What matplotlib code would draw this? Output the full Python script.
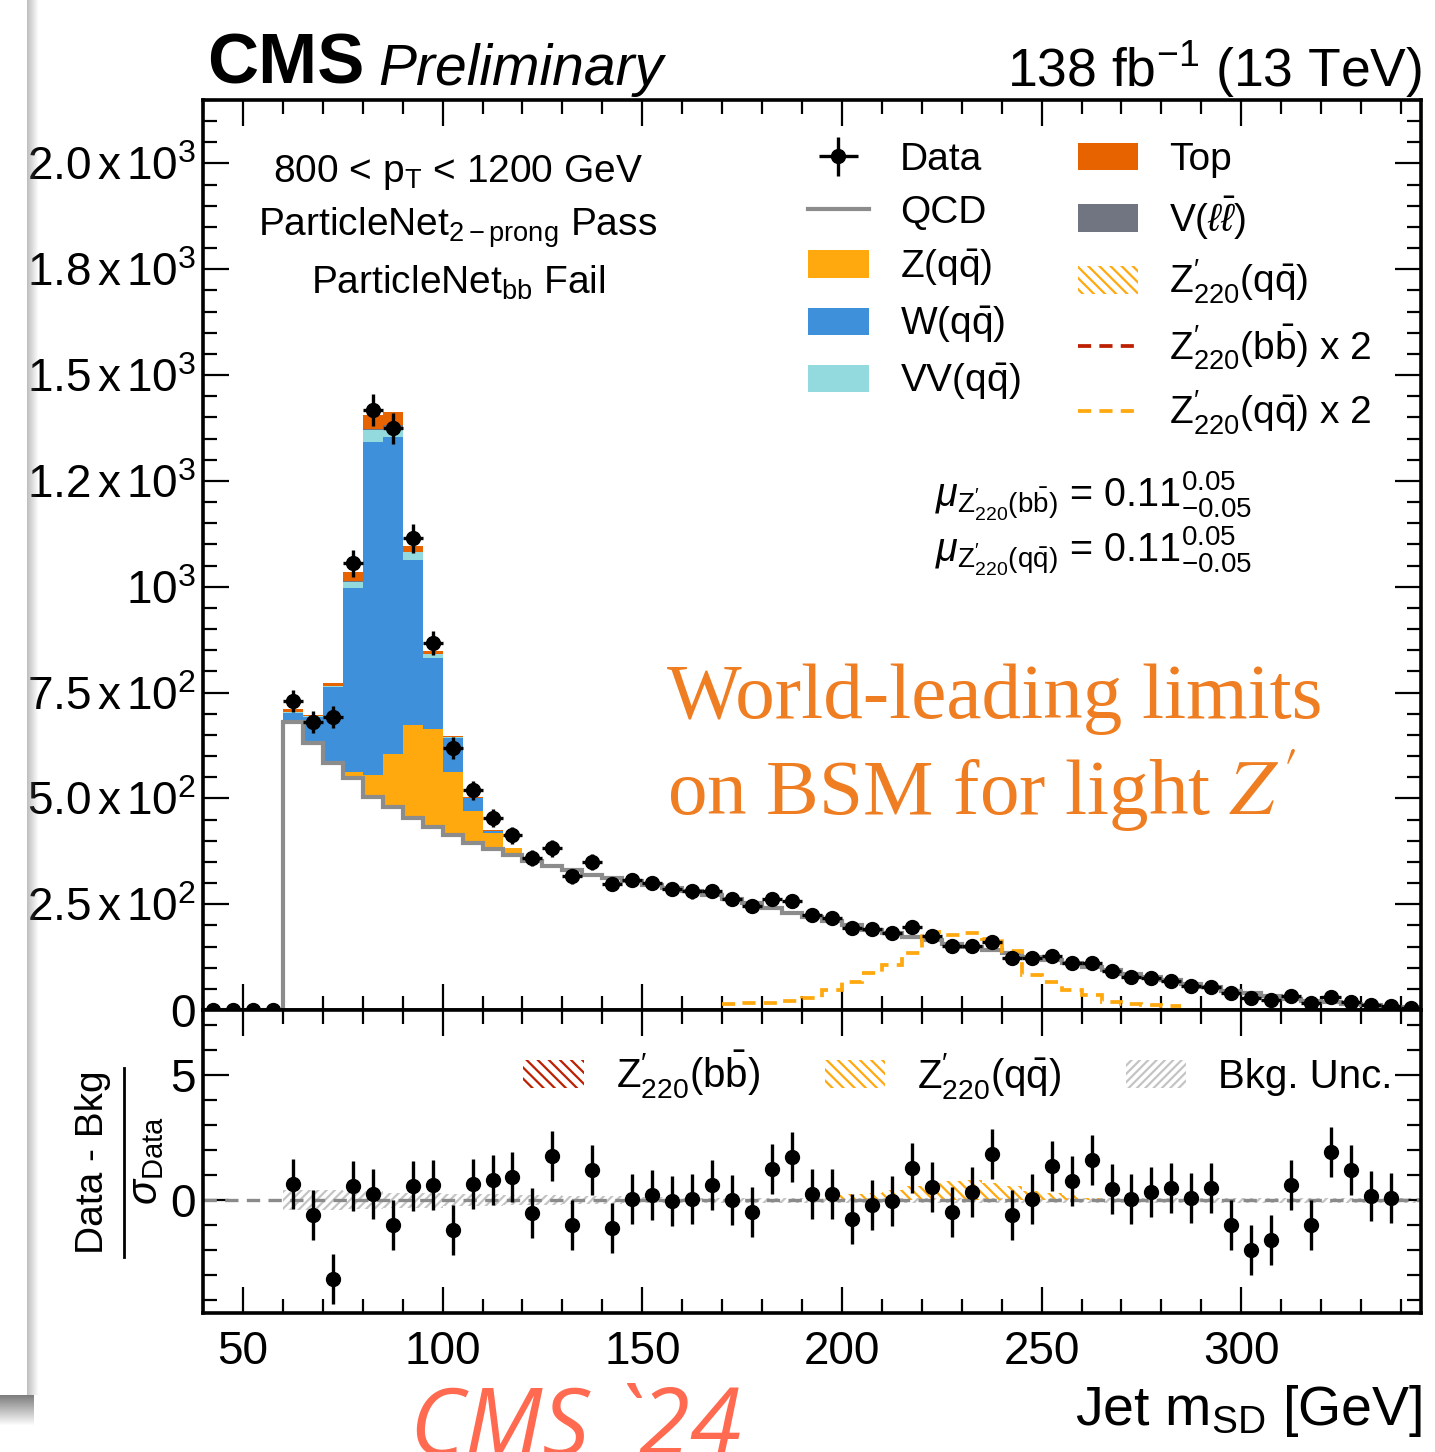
import numpy as np
import matplotlib
matplotlib.use("Agg")
import matplotlib.pyplot as plt
from matplotlib.patches import Patch
from matplotlib.lines import Line2D
from matplotlib.ticker import MultipleLocator

plt.rcParams['font.family'] = ['Liberation Sans', 'DejaVu Sans']
plt.rcParams['mathtext.fontset'] = 'custom'
plt.rcParams['mathtext.rm'] = 'Liberation Sans'
plt.rcParams['mathtext.it'] = 'Liberation Sans:italic'
plt.rcParams['mathtext.bf'] = 'Liberation Sans:bold'
plt.rcParams['hatch.linewidth'] = 1.6

W_PX, H_PX = 1435, 1452

# binning: 5 GeV bins from 40 to 345 GeV
edges = np.arange(40, 346, 5)
centers = edges[:-1] + 2.5

# observed events per bin (40-45 ... 340-345)
data = [0, 0, 0, 0,
        730, 680, 692, 1055, 1417, 1374, 1114, 867, 619, 519, 453, 413,
        359, 382, 316, 349, 298, 307, 300, 286, 280, 281, 262, 246, 262, 257,
        224, 217, 194, 191, 182, 196, 175, 151, 151, 161, 123, 123, 128, 111,
        111, 92, 78, 76, 68, 57, 54, 40, 28, 24, 33, 17, 31, 19, 12, 9, 5]

# QCD background
qcd = [0, 0, 0, 0,
       680, 630, 583, 547, 504, 480, 453, 433, 413, 394, 380, 366,
       352, 340, 330, 320, 312, 304, 296, 289, 280, 272, 263, 252, 240, 230,
       220, 210, 200, 190, 181, 173, 165, 157, 149, 142, 134, 126, 118, 110,
       102, 94, 86, 78, 70, 62, 54, 46, 39, 33, 27, 22, 18, 14, 11, 8, 6]

# resonant backgrounds, bins 60-65 ... 125-130 GeV (zero elsewhere)
res_lo = 60
z_qq = [0, 0, 3, 16, 51, 126, 220, 232, 150, 76, 39, 16, 5, 2]
w_qq = [21, 62, 177, 433, 786, 747, 390, 166, 79, 30, 4, 1, 0, 0]
vv_qq = [3, 2, 3, 15, 29, 25, 18, 10, 3, 2, 1, 0, 0, 0]
v_ll = [0, 0, 0, 2, 3, 3, 2, 0, 0, 0, 0, 0, 0, 0]
top = [6, 3, 6, 21, 33, 31, 13, 7, 3, 2, 1, 0, 0, 0]

# Z'(220) -> qq signal x 2, bins 170-175 ... 280-285 GeV
sig_lo, sig_hi = 170, 285
zp_qq_x2 = [14, 16, 17, 21, 28, 47, 67, 87, 106, 134, 185, 177, 181, 167,
            140, 83, 67, 47, 35, 20, 14, 12, 10]

# pull panel: (Data - Bkg) / sigma_Data, centres 62.5 ... 337.5 GeV
pull = [0.66, -0.60, -3.16, 0.58, 0.25, -1.00, 0.56, 0.62, -1.19, 0.66,
        0.82, 0.91, -0.50, 1.78, -1.01, 1.22, -1.10, 0.05, 0.20, -0.04,
        0.05, 0.60, -0.01, -0.48, 1.24, 1.74, 0.23, 0.25, -0.74, -0.19,
        -0.05, 1.29, 0.53, -0.48, 0.32, 1.83, -0.61, 0.05, 1.35, 0.75,
        1.62, 0.45, 0.05, 0.34, 0.49, 0.08, 0.49, -1.00, -1.99, -1.59,
        0.61, -1.00, 1.93, 1.21, 0.16, 0.07]
pull_lo = 62.5

# background uncertainty (pull units), bins 60-65 ... 340-345
bkg_unc = [0.40, 0.40, 0.40, 0.35, 0.35, 0.30, 0.30, 0.30, 0.25, 0.25,
           0.25, 0.20, 0.20, 0.20, 0.15, 0.15, 0.15, 0.12, 0.12, 0.12,
           0.10, 0.10, 0.10, 0.10, 0.10, 0.10, 0.10, 0.10, 0.10, 0.10,
           0.10, 0.10, 0.10, 0.10, 0.10, 0.10, 0.10, 0.10, 0.10, 0.10,
           0.10, 0.10, 0.10, 0.10, 0.10, 0.10, 0.10, 0.10, 0.10, 0.10,
           0.10, 0.10, 0.10, 0.10, 0.10, 0.10, 0.10]
# Z'(qq) signal in pull units, bins 195-200 ... 260-265
zp_pull_lo = 195
zp_qq_pull = [0.20, 0.25, 0.30, 0.40, 0.55, 0.70, 0.78, 0.80, 0.70, 0.55,
              0.35, 0.30, 0.20, 0.08]

ytick_vals = [0, 250, 500, 750, 1000, 1250, 1500, 1750, 2000]
ytick_labels = ['0', r'2.5$\,$x$\,$10$^2$', r'5.0$\,$x$\,$10$^2$', r'7.5$\,$x$\,$10$^2$',
                r'10$^3$', r'1.2$\,$x$\,$10$^3$', r'1.5$\,$x$\,$10$^3$',
                r'1.8$\,$x$\,$10$^3$', r'2.0$\,$x$\,$10$^3$']

qcd_color = '#8c8c8c'
z_color = '#ffa90e'
w_color = '#3f90da'
vv_color = '#92dadd'
top_color = '#e76300'
vll_color = '#717581'
zbb_color = '#bd1f01'
unc_color = '#c4c4c4'


def pad(vals, lo):
    full = np.zeros(len(centers))
    i0 = int(round((lo - edges[0]) / 5))
    full[i0:i0 + len(vals)] = vals
    return full


def fx(px):
    return px / W_PX


def fy(py):
    return 1 - py / H_PX


fig = plt.figure(figsize=(W_PX / 100, H_PX / 100), dpi=100)
ax = fig.add_axes([fx(203), fy(1010), fx(1421) - fx(203), fy(100) - fy(1010)])
rax = fig.add_axes([fx(203), fy(1313), fx(1421) - fx(203), fy(1010) - fy(1313)])

data = np.array(data, dtype=float)
qcd = np.array(qcd, dtype=float)

# stacked backgrounds on top of QCD
base = qcd.copy()
for vals, col in [(z_qq, z_color), (w_qq, w_color), (vv_qq, vv_color),
                  (v_ll, vll_color), (top, top_color)]:
    full = pad(vals, res_lo)
    ax.stairs(base + full, edges, baseline=base, fill=True, color=col, lw=0, zorder=1)
    base = base + full

ax.stairs(qcd, edges, baseline=0, color=qcd_color, lw=3, zorder=2)

sig_edges = np.arange(sig_lo, sig_hi + 1, 5)
ax.stairs(zp_qq_x2, sig_edges, baseline=None, color=z_color, lw=2.7,
          ls=(0, (3.5, 2.2)), zorder=2)

h_data = ax.errorbar(centers, data, yerr=np.sqrt(data), xerr=2.5, fmt='o',
                     color='black', ms=10, elinewidth=2.4, capsize=0, zorder=4)

ax.set_xlim(40, 345)
ax.set_ylim(0, 2150)
ax.set_yticks(ytick_vals)
ax.set_yticklabels(ytick_labels)
ax.yaxis.set_minor_locator(MultipleLocator(50))
ax.xaxis.set_major_locator(MultipleLocator(50))
ax.xaxis.set_minor_locator(MultipleLocator(10))
ax.tick_params(labelbottom=False)

for a in (ax, rax):
    a.tick_params(which='both', direction='in', top=True, right=True, width=1.6,
                  labelsize=33, pad=5)
    a.tick_params(which='major', length=19)
    a.tick_params(which='minor', length=10)
    for s in a.spines.values():
        s.set_linewidth(2.6)

# legends in the main panel
h_qcd = Line2D([], [], color=qcd_color, lw=3)
p_z = Patch(facecolor=z_color, lw=0)
p_w = Patch(facecolor=w_color, lw=0)
p_vv = Patch(facecolor=vv_color, lw=0)
p_top = Patch(facecolor=top_color, lw=0)
p_vll = Patch(facecolor=vll_color, lw=0)
p_zp = Patch(facecolor='none', edgecolor=z_color, hatch='\\\\\\', lw=0)
h_zbb = Line2D([], [], color=zbb_color, lw=2.7, ls=(0, (3.5, 2.2)))
h_zqq = Line2D([], [], color=z_color, lw=2.7, ls=(0, (3.5, 2.2)))

leg_kw = dict(loc='upper left', frameon=False, fontsize=28, handlelength=1.55,
              handletextpad=0.8, borderpad=0, borderaxespad=0)
leg1 = ax.legend([h_data, h_qcd, p_z, p_w, p_vv],
                 ['Data', 'QCD', r'Z(q$\bar{\mathrm{q}}$)', r'W(q$\bar{\mathrm{q}}$)',
                  r'VV(q$\bar{\mathrm{q}}$)'],
                 bbox_to_anchor=(0.497, 0.954), labelspacing=0.43, **leg_kw)
ax.add_artist(leg1)
ax.legend([p_top, p_vll, p_zp, h_zbb, h_zqq],
          ['Top', r'V($\ell\bar{\ell}$)', r'Z$^{\prime}_{220}$(q$\bar{\mathrm{q}}$)',
           r'Z$^{\prime}_{220}$(b$\bar{\mathrm{b}}$) x 2',
           r'Z$^{\prime}_{220}$(q$\bar{\mathrm{q}}$) x 2'],
          bbox_to_anchor=(0.718, 0.954), labelspacing=0.42, **leg_kw)

# category text
for txt, py in [(r'800 < p$_{\mathrm{T}}$ < 1200 GeV', 172),
                (r'ParticleNet$_{\mathrm{2-prong}}$ Pass', 228),
                (r'ParticleNet$_{\mathrm{bb}}$ Fail', 283)]:
    fig.text(fx(458), fy(py), txt, ha='center', va='center', fontsize=28)

fig.text(fx(935), fy(507), r'$\mu_{\mathrm{Z}^{\prime}_{220}(\mathrm{b\bar{b}})}$ = 0.11$^{0.05}_{-0.05}$',
         fontsize=28.5, va='baseline')
fig.text(fx(935), fy(562), r'$\mu_{\mathrm{Z}^{\prime}_{220}(\mathrm{q\bar{q}})}$ = 0.11$^{0.05}_{-0.05}$',
         fontsize=28.5, va='baseline')

# headline
fig.text(fx(207), fy(83), 'CMS', fontweight='bold', fontsize=51, va='baseline')
fig.text(fx(378), fy(85), 'Preliminary', style='italic', fontsize=41, va='baseline')
fig.text(fx(1422), fy(87), r'138 fb$^{-1}$ (13 TeV)', ha='right', fontsize=38.5,
         va='baseline')

fig.text(fx(667), fy(718), 'World-leading limits', family='Liberation Serif',
         fontsize=57, color='#ef7d22', va='baseline')
fig.text(fx(667), fy(815), r"on BSM for light $Z'$", family='Liberation Serif',
         math_fontfamily='stix', fontsize=57, color='#ef7d22', va='baseline')

# pull panel
unc_edges = np.arange(60, 346, 5)
unc = np.array(bkg_unc)
rax.stairs(unc, unc_edges, baseline=-unc, fill=True, facecolor='none',
           edgecolor=unc_color, hatch='////', lw=0, zorder=1)
zp_edges = np.arange(zp_pull_lo, zp_pull_lo + 5 * len(zp_qq_pull) + 1, 5)
rax.stairs(zp_qq_pull, zp_edges, baseline=0, fill=True, facecolor='none',
           edgecolor=z_color, hatch='\\\\\\', lw=0, zorder=1)
rax.axhline(0, color='#8a8a8a', lw=2.4, ls=(0, (4, 2.5)), zorder=2)
pull_x = pull_lo + 5 * np.arange(len(pull))
rax.errorbar(pull_x, pull, yerr=1, fmt='o', color='black', ms=10,
             elinewidth=2.4, capsize=0, zorder=4)

rax.set_xlim(40, 345)
rax.set_ylim(-4.52, 7.6)
rax.set_yticks([0, 5])
rax.yaxis.set_minor_locator(MultipleLocator(1))
rax.xaxis.set_major_locator(MultipleLocator(50))
rax.xaxis.set_minor_locator(MultipleLocator(10))
rax.tick_params(axis='x', pad=12)

p_zbb = Patch(facecolor='none', edgecolor=zbb_color, hatch='\\\\\\', lw=0)
p_unc = Patch(facecolor='none', edgecolor=unc_color, hatch='////', lw=0)
rax.legend([p_zbb, p_zp, p_unc],
           [r'Z$^{\prime}_{220}$(b$\bar{\mathrm{b}}$)', r'Z$^{\prime}_{220}$(q$\bar{\mathrm{q}}$)',
            'Bkg. Unc.'],
           loc='center left', bbox_to_anchor=(0.263, 0.785), ncol=3, frameon=False,
           fontsize=29, handlelength=1.5, handletextpad=0.8, columnspacing=1.6,
           borderpad=0, borderaxespad=0)

fig.text(fx(1422), fy(1425), r'Jet m$_{\mathrm{SD}}$ [GeV]', ha='right',
         va='baseline', fontsize=40)

# pull axis title as a fraction
fig.text(fx(93), fy(1162), 'Data - Bkg', rotation=90, ha='center', va='center',
         fontsize=28)
fig.add_artist(Line2D([fx(124), fx(124)], [fy(1068), fy(1257)],
                      transform=fig.transFigure, color='black', lw=2))
fig.text(fx(146), fy(1161), r'$\sigma_{\mathrm{Data}}$', rotation=90,
         ha='center', va='center', fontsize=30)

fig.text(fx(410), fy(1455), 'CMS `24', family='Open Sans', style='italic',
         fontsize=67, color='#ff6a50', va='baseline')

# slide edge with drop shadow on the left
edge_w = 45
img = np.zeros((H_PX, edge_w, 4))
img[:1395, :27, :] = 1.0
for i in range(27, 38):
    img[:1395, i, :3] = 0.45
    img[:1395, i, 3] = 0.45 * (38 - i) / 11
for j in range(1395, 1425):
    img[j, :34, :3] = 0.4
    img[j, :34, 3] = 0.85 * (1425 - j) / 30
sax = fig.add_axes([0, 0, edge_w / W_PX, 1], zorder=10)
sax.imshow(img, aspect='auto', interpolation='nearest')
sax.axis('off')

fig.savefig('out.png', dpi=100)
